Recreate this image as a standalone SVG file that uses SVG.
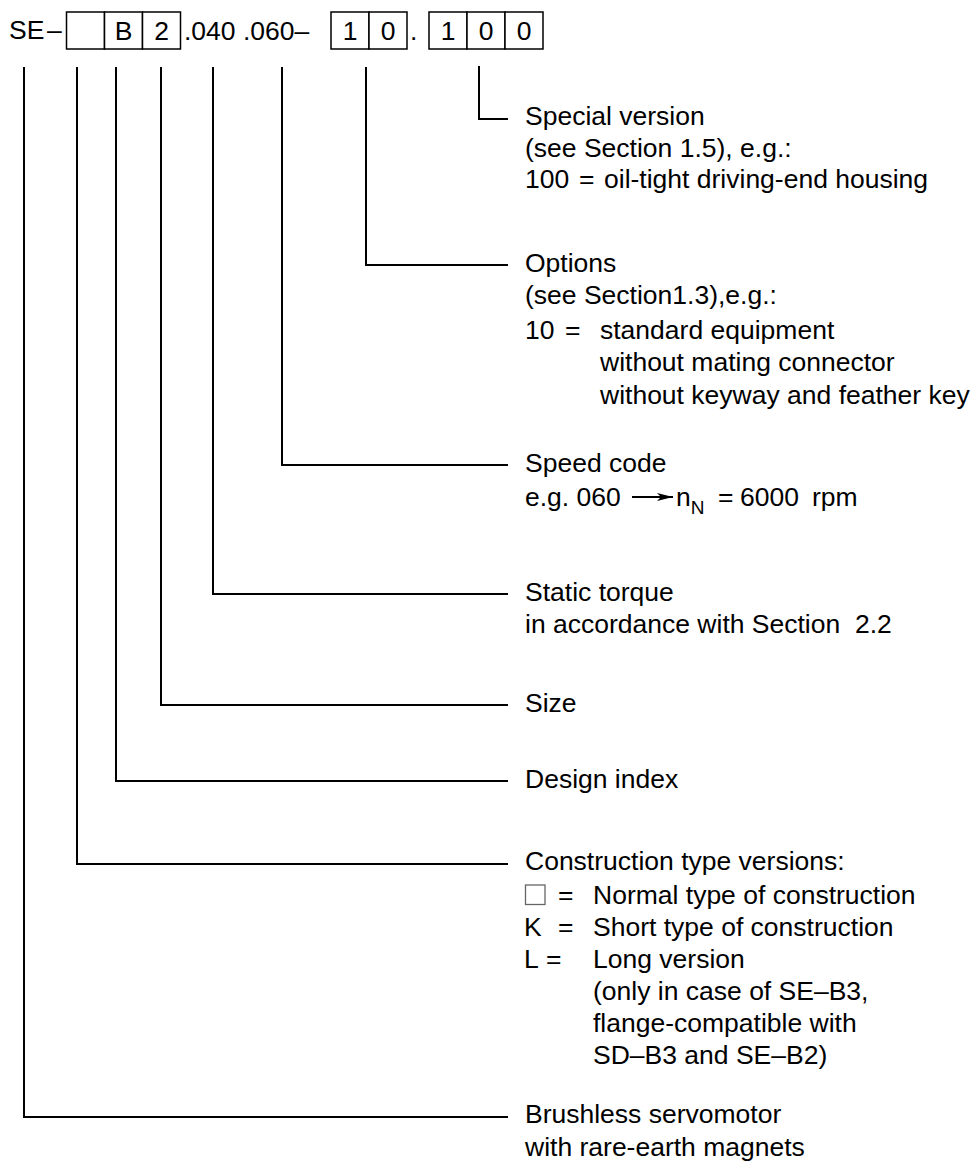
<svg xmlns="http://www.w3.org/2000/svg" width="976" height="1168" viewBox="0 0 976 1168">
<defs>
<style>
.t{font-family:"Liberation Sans",Arial,Helvetica,sans-serif;font-size:26.5px;fill:#000}
.sub{font-size:19px}
.ln{stroke:#000;stroke-width:2;fill:none}
.box{stroke:#000;stroke-width:1.5;fill:#fff}
.m{text-anchor:middle}
</style>
<marker id="ah" viewBox="0 0 16 10" refX="16" refY="5" markerWidth="16" markerHeight="10" markerUnits="userSpaceOnUse" orient="auto">
<path d="M0,1 L16,5 L0,9 L4,5 Z" fill="#000"/>
</marker>
</defs>
<rect width="976" height="1168" fill="#fff"/>

<g id="code">
<text class="t" y="39"><tspan x="9">SE</tspan><tspan x="47">–</tspan></text>
<rect class="box" x="66.5" y="12" width="38" height="37"/>
<rect class="box" x="104.5" y="12" width="38" height="37"/>
<rect class="box" x="142.5" y="12" width="38" height="37"/>
<text class="t m" x="123.5" y="40">B</text>
<text class="t m" x="161.5" y="40">2</text>
<text class="t" x="184" y="40">.040 .060–</text>
<rect class="box" x="331" y="12" width="38" height="37"/>
<rect class="box" x="369" y="12" width="38" height="37"/>
<text class="t m" x="350" y="40">1</text>
<text class="t m" x="388" y="40">0</text>
<text class="t" x="410" y="40">.</text>
<rect class="box" x="429" y="12" width="38" height="37"/>
<rect class="box" x="467" y="12" width="38" height="37"/>
<rect class="box" x="505" y="12" width="38" height="37"/>
<text class="t m" x="448" y="40">1</text>
<text class="t m" x="486" y="40">0</text>
<text class="t m" x="524" y="40">0</text>
</g>

<g id="connectors">
<path class="ln" d="M24,67 V1117 H508"/>
<path class="ln" d="M77,67 V864 H508"/>
<path class="ln" d="M116,67 V781 H508"/>
<path class="ln" d="M161,67 V705 H508"/>
<path class="ln" d="M213,67 V594 H508"/>
<path class="ln" d="M282,67 V465 H508"/>
<path class="ln" d="M366,67 V265 H508"/>
<path class="ln" d="M479,66 V119 H508"/>
</g>

<g id="special-version">
<text class="t" x="525" y="125">Special version</text>
<text class="t" x="525" y="157">(see Section 1.5), e.g.:</text>
<text class="t" y="188"><tspan x="525">100</tspan><tspan x="579">=</tspan><tspan x="604">oil-tight driving-end housing</tspan></text>
</g>

<g id="options">
<text class="t" x="525" y="272">Options</text>
<text class="t" x="525" y="304">(see Section1.3),e.g.:</text>
<text class="t" y="339"><tspan x="525">10</tspan><tspan x="565">=</tspan><tspan x="600">standard equipment</tspan></text>
<text class="t" x="600" y="371">without mating connector</text>
<text class="t" x="600" y="404">without keyway and feather key</text>
</g>

<g id="speed-code">
<text class="t" x="525" y="472">Speed code</text>
<text class="t" x="525" y="506">e.g. 060</text>
<line class="ln" x1="632" y1="497" x2="673" y2="497" stroke-width="1.5" marker-end="url(#ah)"/>
<text class="t" x="676" y="506">n<tspan class="sub" dy="8">N</tspan></text>
<text class="t" y="506"><tspan x="718">=</tspan><tspan x="740">6000</tspan><tspan x="812">rpm</tspan></text>
</g>

<g id="static-torque">
<text class="t" x="525" y="601">Static torque</text>
<text class="t" x="525" y="633" xml:space="preserve">in accordance with Section  2.2</text>
</g>

<g id="size">
<text class="t" x="525" y="712">Size</text>
</g>

<g id="design-index">
<text class="t" x="525" y="788">Design index</text>
</g>

<g id="construction-type">
<text class="t" x="525" y="870">Construction type versions:</text>
<rect x="525.5" y="885" width="19.5" height="19.5" fill="none" stroke="#666" stroke-width="1.3"/>
<text class="t" y="904"><tspan x="558">=</tspan><tspan x="593">Normal type of construction</tspan></text>
<text class="t" y="936"><tspan x="524">K</tspan><tspan x="558">=</tspan><tspan x="593">Short type of construction</tspan></text>
<text class="t" y="968"><tspan x="524">L</tspan><tspan x="546">=</tspan><tspan x="593">Long version</tspan></text>
<text class="t" x="593" y="1000">(only in case of SE–B3,</text>
<text class="t" x="593" y="1032">flange-compatible with</text>
<text class="t" x="593" y="1064">SD–B3 and SE–B2)</text>
</g>

<g id="brushless-servomotor">
<text class="t" x="525" y="1123">Brushless servomotor</text>
<text class="t" x="525" y="1156">with rare-earth magnets</text>
</g>
</svg>
